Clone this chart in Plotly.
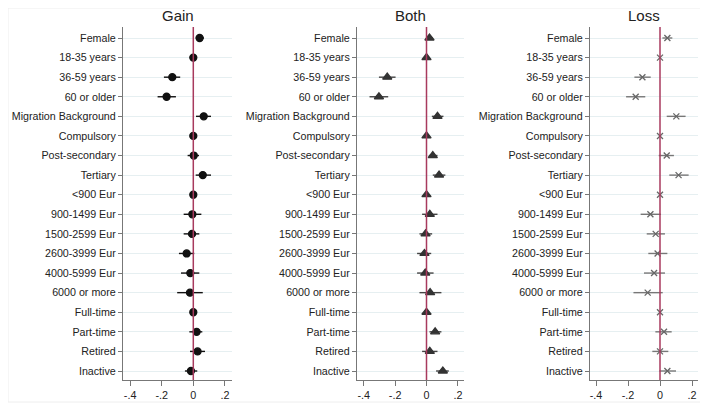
import plotly.graph_objects as go
from plotly.subplots import make_subplots

# row labels, top to bottom
labels = ["Female", "18-35 years", "36-59 years", "60 or older", "Migration Background",
          "Compulsory", "Post-secondary", "Tertiary", "<900 Eur", "900-1499 Eur",
          "1500-2599 Eur", "2600-3999 Eur", "4000-5999 Eur", "6000 or more",
          "Full-time", "Part-time", "Retired", "Inactive"]

# Gain
gain_est = [0.04, 0, -0.133, -0.169, 0.066, 0, 0.003, 0.06, 0, -0.006,
            -0.008, -0.042, -0.019, -0.021, 0, 0.021, 0.027, -0.015]
gain_lo = [0.015, 0, -0.186, -0.226, 0.017, 0, -0.036, 0.015, 0, -0.061,
           -0.061, -0.091, -0.078, -0.102, 0, -0.025, -0.021, -0.053]
gain_hi = [0.068, 0, -0.083, -0.11, 0.112, 0, 0.036, 0.112, 0, 0.051,
           0.038, 0.006, 0.038, 0.06, 0, 0.057, 0.074, 0.025]

# Both
both_est = [0.019, 0, -0.25, -0.303, 0.07, 0, 0.04, 0.08, 0, 0.021,
            -0.006, -0.013, -0.008, 0.023, 0, 0.055, 0.021, 0.104]
both_lo = [0.002, 0, -0.303, -0.363, 0.034, 0, 0.015, 0.04, 0, -0.028,
           -0.045, -0.06, -0.06, -0.045, 0, 0.019, -0.028, 0.061]
both_hi = [0.04, 0, -0.197, -0.244, 0.108, 0, 0.07, 0.12, 0, 0.07,
           0.036, 0.03, 0.045, 0.095, 0, 0.095, 0.07, 0.142]

# Loss
loss_est = [0.046, 0, -0.11, -0.152, 0.102, 0, 0.042, 0.116, 0, -0.06,
            -0.027, -0.015, -0.037, -0.077, 0, 0.025, 0, 0.046]
loss_lo = [0.015, 0, -0.16, -0.212, 0.042, 0, -0.008, 0.058, 0, -0.121,
           -0.083, -0.073, -0.1, -0.166, 0, -0.029, -0.048, -0.004]
loss_hi = [0.077, 0, -0.058, -0.092, 0.16, 0, 0.087, 0.179, 0, 0.006,
           0.031, 0.046, 0.031, 0.017, 0, 0.073, 0.052, 0.1]

titles = ["Gain", "Both", "Loss"]
xticks = [-0.4, -0.2, 0, 0.2]
xticktext = ["-.4", "-.2", "0", ".2"]

# page puts the figure 8px in from the corner
OFF = 8
W, H = 708 - OFF, 406 - OFF
# plot areas in window pixels
xdom_px = [(123, 232), (357, 464), (590, 698)]
zero_px = [193.3, 426.5, 660]
px_per_02 = [31.6, 31.4, 32]
ytop, ybot = 27, 380
yfirst, ylast = 38, 371

FONT = "Liberation Sans, Arial"

fig = make_subplots(rows=1, cols=3)

panels = [
    (gain_est, gain_lo, gain_hi, "circle", 7, "#111111", "#111111"),
    (both_est, both_lo, both_hi, "triangle-up", 8, "#333333", "#444444"),
    (loss_est, loss_lo, loss_hi, "x-thin", 6, "#666666", "#777777"),
]

for i, (est, lo, hi, sym, size, mcol, lcol) in enumerate(panels):
    plus = [h - e for h, e in zip(hi, est)]
    minus = [e - l for e, l in zip(est, lo)]
    fig.add_trace(go.Scatter(
        x=est, y=labels, mode="markers",
        marker=dict(symbol=sym, size=size, color=mcol,
                    line=dict(color=mcol, width=1.3)),
        error_x=dict(type="data", array=plus, arrayminus=minus,
                     width=0, thickness=1.4, color=lcol),
        showlegend=False), row=1, col=i + 1)

n = len(labels)
step = (ylast - yfirst) / (n - 1)
yr = [n - 1 + (ybot - ylast) / step, -(yfirst - ytop) / step]

for i in range(3):
    x0, x1 = xdom_px[i]
    xa = "xaxis" if i == 0 else "xaxis%d" % (i + 1)
    ya = "yaxis" if i == 0 else "yaxis%d" % (i + 1)
    scale = 0.2 / px_per_02[i]
    fig.layout[xa].update(
        domain=[(x0 - OFF) / W, (x1 - OFF) / W],
        range=[(x0 - zero_px[i]) * scale, (x1 - zero_px[i]) * scale],
        tickvals=xticks, ticktext=xticktext, ticks="outside", ticklen=5,
        tickcolor="#777777", showline=True, linecolor="#777777", linewidth=1.2,
        showgrid=False, zeroline=False,
        tickfont=dict(family=FONT, size=10.8, color="#222222"))
    fig.layout[ya].update(
        domain=[1 - (ybot - OFF) / H, 1 - (ytop - OFF) / H],
        type="category", categoryarray=labels, range=yr,
        ticks="outside", ticklen=4, tickcolor="#777777",
        showline=True, linecolor="#777777", linewidth=1.2,
        showgrid=True, gridcolor="#e6eff1", gridwidth=1, zeroline=False,
        tickfont=dict(family=FONT, size=10.7, color="#222222"))
    # vertical reference line at zero
    xref = "x" if i == 0 else "x%d" % (i + 1)
    yref = "y domain" if i == 0 else "y%d domain" % (i + 1)
    fig.add_shape(type="line", xref=xref, yref=yref, x0=0, x1=0, y0=0, y1=1,
                  line=dict(color="#a83a5e", width=1.5))
    fig.add_annotation(text=titles[i], xref="paper", yref="paper",
                       x=((x0 + x1) / 2 - OFF) / W, y=1 - (16 - OFF) / H,
                       xanchor="center", yanchor="middle", showarrow=False,
                       font=dict(family=FONT, size=15, color="#222222"))

# faint outer frame
fig.add_shape(type="rect", xref="paper", yref="paper",
              x0=0, x1=(705 - OFF) / W, y0=1 - (402 - OFF) / H, y1=1,
              line=dict(color="#eeeeee", width=1), layer="below")

fig.update_layout(width=W, height=H, margin=dict(l=0, r=0, t=0, b=0),
                  paper_bgcolor="white", plot_bgcolor="white")

fig.write_html("out.html")
